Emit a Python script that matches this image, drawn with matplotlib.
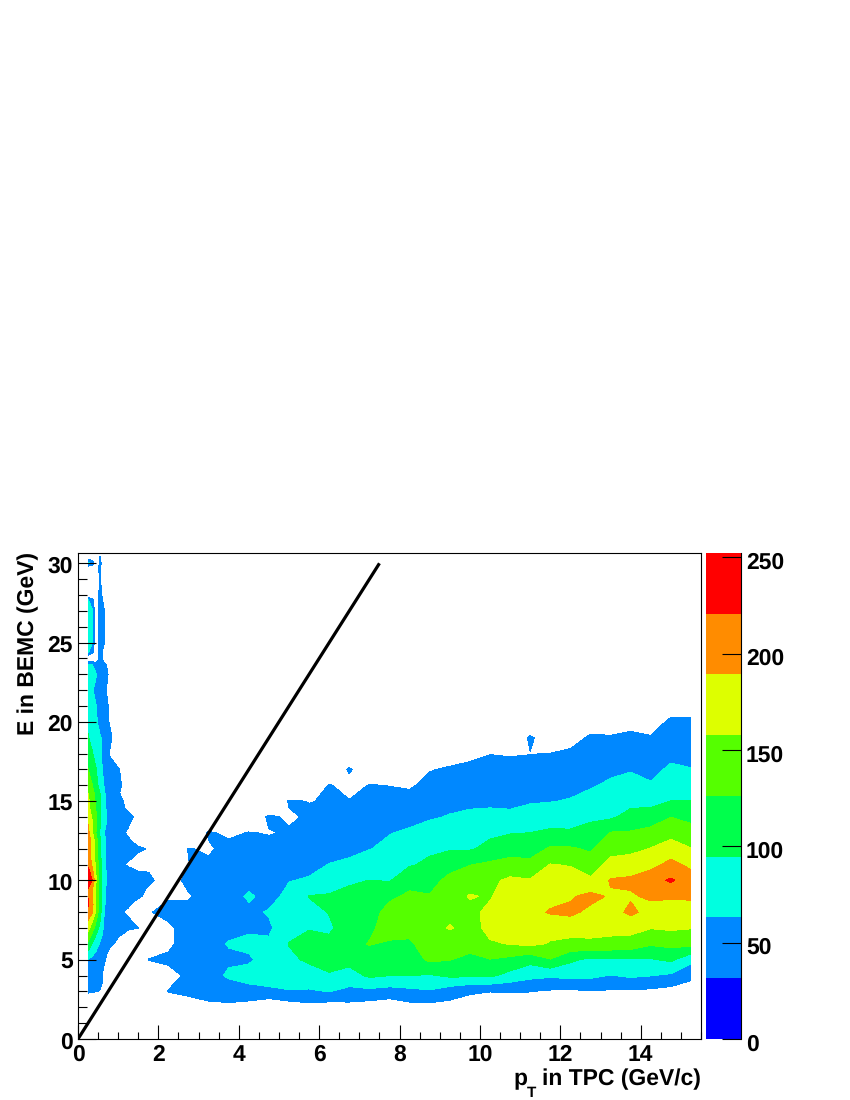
import numpy as np
import matplotlib
matplotlib.use('Agg')
import matplotlib.pyplot as plt
from matplotlib.ticker import MultipleLocator
from matplotlib.transforms import ScaledTranslation

plt.rcParams['font.family'] = ['Liberation Sans', 'DejaVu Sans']
plt.rcParams['font.weight'] = 'bold'
plt.rcParams['text.hinting'] = 'no_hinting'

# Contour levels and palette

levels = [0, 31.6, 63.1, 94.7, 126.2, 157.8, 189.3, 220.8, 252.3]
colors = ['#0000FF', '#0088FF', '#00FFE0', '#00FF4C', '#55FF00', '#DDFF00', '#FF8C00', '#FF0000']
bar_ticks = [0, 50, 100, 150, 200, 250]

# Low pT band: one row per E value

left_pt = [0.25, 0.35, 0.45, 0.55, 0.65, 0.8, 1.0, 1.25, 1.5, 1.75, 2.0]
left_e = [2.5, 3, 3.5, 4, 4.5, 5, 5.5, 6, 6.5, 7, 7.5, 8, 8.5, 9, 9.5, 10, 10.5, 11, 11.5, 12,
          12.5, 13, 13.5, 14, 14.5, 15, 15.5, 16, 17, 18, 19, 20, 21, 22, 23, 23.6, 24, 24.4, 25, 26, 27,
          27.7, 28, 29, 29.7, 30, 30.4, 31]
left_counts = [
    [0, 0, 0, 0, 0, 0, 0, 0, 0, 0, 0],
    [40, 36, 33, 30, 10, 0, 0, 0, 0, 0, 0],
    [45, 42, 40, 38, 25, 0, 0, 0, 0, 0, 0],
    [50, 46, 42, 38, 25, 0, 0, 0, 0, 0, 0],
    [55, 50, 45, 40, 30, 0, 0, 0, 0, 0, 0],
    [62, 54, 48, 42, 36, 15, 0, 0, 0, 0, 0],
    [92, 76, 62, 50, 42, 24, 0, 0, 0, 0, 0],
    [118, 95, 76, 60, 46, 38, 24, 0, 0, 0, 0],
    [145, 118, 92, 72, 52, 44, 34, 20, 0, 0, 0],
    [170, 142, 112, 85, 58, 46, 40, 36, 32, 10, 0],
    [190, 165, 130, 96, 62, 46, 40, 36, 20, 0, 0],
    [215, 195, 150, 105, 62, 46, 36, 27, 0, 0, 0],
    [224, 200, 155, 108, 66, 48, 42, 36, 20, 0, 0],
    [220, 195, 150, 105, 66, 50, 46, 42, 36, 25, 0],
    [220, 195, 150, 105, 68, 50, 44, 40, 37, 30, 0],
    [250, 222, 160, 108, 72, 50, 46, 44, 42, 38, 27],
    [235, 205, 155, 106, 70, 50, 46, 42, 38, 33, 10],
    [215, 185, 150, 105, 68, 48, 40, 28, 0, 0, 0],
    [205, 180, 145, 102, 68, 48, 42, 38, 26, 0, 0],
    [205, 180, 145, 102, 68, 50, 44, 40, 37, 30, 0],
    [205, 180, 140, 100, 68, 48, 42, 36, 20, 0, 0],
    [200, 165, 125, 88, 64, 48, 40, 28, 0, 0, 0],
    [190, 165, 130, 100, 70, 48, 42, 34, 10, 0, 0],
    [180, 155, 128, 100, 70, 48, 42, 38, 26, 0, 0],
    [170, 145, 125, 100, 70, 48, 40, 28, 0, 0, 0],
    [165, 140, 122, 96, 68, 46, 38, 25, 0, 0, 0],
    [158, 135, 118, 94, 66, 46, 36, 8, 0, 0, 0],
    [146, 128, 105, 82, 62, 44, 40, 14, 0, 0, 0],
    [127, 108, 96, 72, 56, 44, 36, 5, 0, 0, 0],
    [108, 98, 82, 68, 52, 28, 0, 0, 0, 0, 0],
    [97, 84, 74, 66, 54, 38, 10, 0, 0, 0, 0],
    [88, 78, 68, 52, 44, 28, 0, 0, 0, 0, 0],
    [80, 74, 64, 50, 44, 26, 0, 0, 0, 0, 0],
    [76, 68, 52, 46, 38, 20, 0, 0, 0, 0, 0],
    [72, 70, 66, 50, 44, 25, 0, 0, 0, 0, 0],
    [68, 66, 40, 44, 40, 18, 0, 0, 0, 0, 0],
    [0, 0, 5, 42, 20, 0, 0, 0, 0, 0, 0],
    [68, 40, 5, 42, 22, 0, 0, 0, 0, 0, 0],
    [72, 66, 5, 44, 34, 0, 0, 0, 0, 0, 0],
    [74, 66, 5, 44, 33, 0, 0, 0, 0, 0, 0],
    [70, 68, 5, 44, 33, 0, 0, 0, 0, 0, 0],
    [66, 40, 5, 42, 25, 0, 0, 0, 0, 0, 0],
    [0, 0, 10, 42, 18, 0, 0, 0, 0, 0, 0],
    [0, 0, 20, 34, 5, 0, 0, 0, 0, 0, 0],
    [5, 0, 20, 38, 5, 0, 0, 0, 0, 0, 0],
    [70, 60, 5, 40, 5, 0, 0, 0, 0, 0, 0],
    [5, 0, 5, 33, 0, 0, 0, 0, 0, 0, 0],
    [0, 0, 0, 0, 0, 0, 0, 0, 0, 0, 0],
]

# Main band: one list per pT column, first entry is E = 2 GeV

main_pt = [1.75, 2.25, 2.75, 3.25, 3.75, 4.25, 4.75, 5.25, 5.75, 6.25, 6.75, 7.25, 7.75, 8.25,
           8.75, 9.25, 9.75, 10.25, 10.75, 11.25, 11.75, 12.25, 12.75, 13.25, 13.75, 14.25, 14.75, 15.25]
main_e = list(range(1, 23))
main_columns = [
    [0, 0, 5, 32.5, 10, 5, 29, 8],
    [0, 33, 20, 38, 25, 25, 42, 28, 12],
    [13, 40, 38, 50, 48, 46, 42, 28, 42, 31, 33],
    [21, 48, 50, 52, 52, 50, 48, 46, 42, 36, 28, 35],
    [26, 45, 68, 58, 65, 55, 50, 48, 46, 42, 40, 26],
    [16, 55, 72, 60, 68, 60, 55, 68, 52, 46, 40, 33, 8],
    [0, 58, 75, 72, 68, 58, 66, 52, 46, 42, 40, 30, 36],
    [12, 62, 72, 88, 96, 84, 80, 72, 62, 52, 44, 34, 28, 34],
    [20, 60, 80, 100, 105, 93, 85, 96, 66, 55, 48, 42, 35, 31],
    [15, 64, 92, 105, 102, 90, 96, 96, 88, 64, 52, 44, 38, 33, 34],
    [20, 55, 82, 105, 115, 110, 105, 100, 92, 67, 58, 50, 40, 33, 20, 36],
    [15, 55, 100, 110, 128, 120, 112, 108, 95, 80, 62, 55, 48, 40, 33, 5],
    [10, 50, 95, 108, 122, 140, 138, 120, 93, 88, 70, 62, 52, 40, 31],
    [20, 55, 95, 110, 122, 135, 140, 132, 115, 92, 82, 67, 55, 42, 28, 5],
    [20, 60, 92, 132, 140, 145, 140, 128, 115, 100, 90, 76, 60, 48, 40, 30, 10],
    [20, 46, 100, 127, 140, 160, 150, 142, 135, 115, 92, 78, 65, 55, 45, 35, 18, 2],
    [18, 35, 100, 120, 135, 148, 150, 160, 145, 125, 92, 82, 68, 58, 48, 38, 25, 3],
    [20, 32, 100, 125, 155, 165, 165, 155, 150, 132, 102, 90, 70, 58, 50, 40, 31, 3],
    [15, 33, 85, 118, 159, 172, 178, 176, 165, 133, 118, 93, 68, 58, 48, 38, 30, 5],
    [20, 32, 72, 105, 165, 175, 180, 176, 160, 135, 112, 95, 78, 60, 50, 40, 31, 36],
    [15, 28, 68, 125, 155, 170, 192, 180, 170, 159, 130, 100, 80, 62, 52, 42, 32, 15, 2],
    [12, 26, 72, 100, 150, 170, 196, 186, 170, 156, 130, 98, 84, 65, 55, 44, 36, 22, 5],
    [10, 30, 70, 88, 152, 168, 182, 198, 163, 142, 122, 104, 90, 74, 60, 52, 44, 35, 20, 3],
    [10, 28, 62, 92, 148, 168, 176, 186, 192, 168, 147, 128, 90, 80, 68, 57, 46, 34, 18, 3],
    [10, 28, 68, 92, 145, 168, 196, 186, 195, 172, 150, 129, 105, 86, 74, 61, 50, 38, 22, 3],
    [8, 25, 64, 92, 130, 159, 178, 194, 208, 180, 159, 137, 108, 86, 66, 55, 44, 34, 18, 4],
    [5, 20, 58, 100, 135, 162, 178, 192, 225, 198, 172, 148, 126, 95, 82, 68, 56, 46, 37, 18],
    [5, 18, 38, 72, 135, 159, 178, 193, 205, 182, 159, 138, 118, 95, 78, 64, 55, 45, 36, 20],
]

# Line drawn over the map

line_pt = [0, 7.5]
line_e = [0, 30]

# Columns stop at different heights, the rest of each one is empty

main_counts = np.zeros((len(main_e), len(main_pt)))
for i, col in enumerate(main_columns):
    main_counts[1:len(col) + 1, i] = col

# Graphs

W, H = 850, 1100
fig = plt.figure(figsize=(W / 100, H / 100), dpi=100)
ax = fig.add_axes([78 / W, 1 - 1039 / H, (701 - 78) / W, (1039 - 553) / H])
cax = fig.add_axes([706 / W, 1 - 1039 / H, (741 - 706) / W, (1039 - 553) / H])

ax.contourf(left_pt, left_e, left_counts, levels=levels[1:], colors=colors[1:])
ax.contourf(main_pt, main_e, main_counts, levels=levels[1:], colors=colors[1:])
ax.plot(line_pt, line_e, color='k', lw=2.3, solid_capstyle='butt')

ax.set_xlim(0, 15.5)
ax.set_ylim(0, 30.65)
ax.xaxis.set_major_locator(MultipleLocator(2))
ax.xaxis.set_minor_locator(MultipleLocator(0.5))
ax.yaxis.set_major_locator(MultipleLocator(5))
ax.yaxis.set_minor_locator(MultipleLocator(1))
ax.tick_params(axis='x', which='major', direction='in', length=10, width=0.8, labelsize=16.5, pad=3.5)
ax.tick_params(axis='x', which='minor', direction='in', length=5, width=0.8)
ax.tick_params(axis='y', which='major', direction='in', length=13, width=0.8, labelsize=16.5, pad=3.6)
ax.tick_params(axis='y', which='minor', direction='in', length=6.5, width=0.8)
for s in ax.spines.values():
    s.set_linewidth(0.8)

fig.text(28 / W, 1 - 552 / H, 'E in BEMC (GeV)', rotation=90, ha='center', va='top', fontsize=16.5)
fig.text(701 / W, 1 - 1085 / H, 'in TPC (GeV/c)', ha='right', va='baseline', fontsize=16.5)
fig.text(513 / W, 1 - 1085 / H, 'p', ha='left', va='baseline', fontsize=16.5)
fig.text(527 / W, 1 - 1097 / H, 'T', ha='left', va='baseline', fontsize=11)

# Colour scale

cax.pcolormesh([0, 1], levels, np.arange(len(colors)).reshape(-1, 1), cmap=matplotlib.colors.ListedColormap(colors))
cax.set_xlim(0, 1)
cax.set_ylim(0, levels[-1])
cax.set_xticks([])
cax.yaxis.tick_right()
cax.set_yticks(bar_ticks)
cax.tick_params(axis='y', direction='in', length=14, width=0.8, labelsize=16.5, pad=3.6)
for name in ['top', 'left', 'bottom']:
    cax.spines[name].set_visible(False)
cax.spines['right'].set_linewidth(0.8)

# Tick labels sit slightly below their ticks in the original

for lab in ax.get_yticklabels():
    lab.set_transform(lab.get_transform() + ScaledTranslation(0, -1 / 100, fig.dpi_scale_trans))
for lab in cax.get_yticklabels():
    lab.set_transform(lab.get_transform() + ScaledTranslation(0, -3 / 100, fig.dpi_scale_trans))

fig.savefig('out.png', dpi=100)
